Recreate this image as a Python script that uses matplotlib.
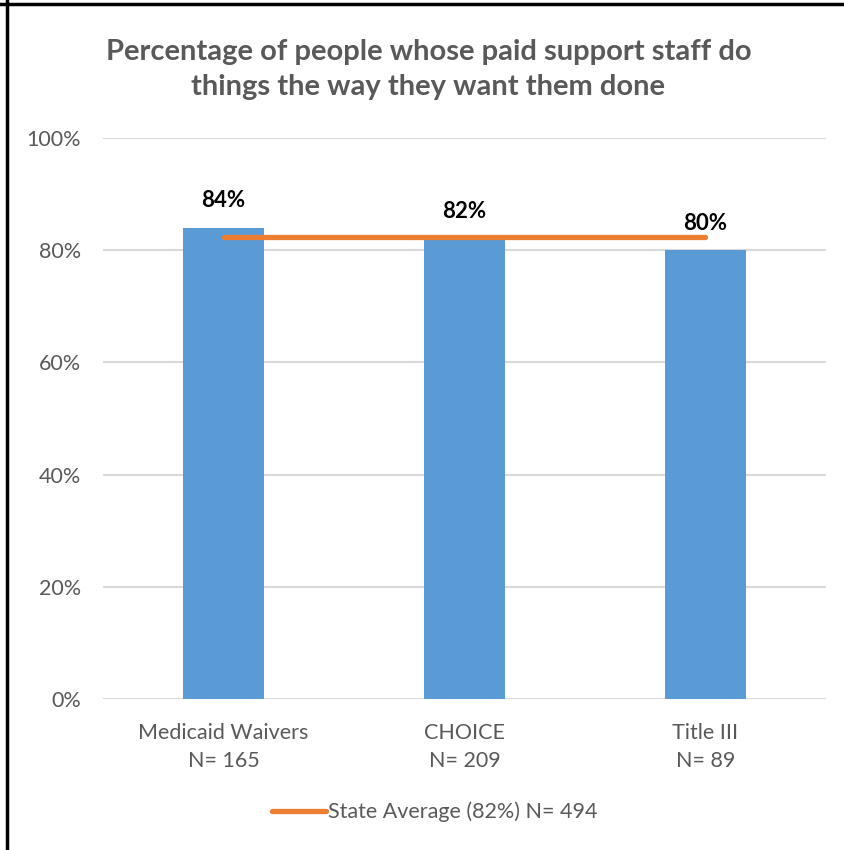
import matplotlib.pyplot as plt
from matplotlib.lines import Line2D
from matplotlib.ticker import PercentFormatter

categories = ['Medicaid Waivers\nN= 165', 'CHOICE\nN= 209', 'Title III\nN= 89']
values = [84, 82, 80]
value_labels = ['84%', '82%', '80%']
state_avg = 82.3
legend_label = 'State Average (82%) N= 494'
title = 'Percentage of people whose paid support staff do\nthings the way they want them done'

plt.rcParams['font.family'] = ['Lato', 'DejaVu Sans']
gray = '#595959'

fig = plt.figure(figsize=(8.45, 8.5), dpi=100)
ax = fig.add_axes([0.1219, 0.1776, 0.8556, 0.66])

x = range(len(categories))
ax.bar(x, values, width=0.336, color='#5B9BD5', zorder=2)
ax.plot([0, len(categories) - 1], [state_avg] * 2, color='#ED7D31', lw=3.8,
        solid_capstyle='round', zorder=3, label=legend_label)

for i, (v, lab) in enumerate(zip(values, value_labels)):
    ax.annotate(lab, (i, v), xytext=(0, 12), textcoords='offset points',
                ha='center', va='bottom', fontsize=16, fontweight='bold', color='black')

ax.set_xlim(-0.5, len(categories) - 0.5)
ax.set_ylim(0, 100)
ax.set_yticks(range(0, 101, 20))
ax.yaxis.set_major_formatter(PercentFormatter(decimals=0))
ax.set_xticks(list(x))
ax.set_xticklabels(categories, linespacing=1.55)
ax.tick_params(axis='both', length=0, labelsize=15.5, labelcolor=gray)
ax.tick_params(axis='y', pad=16)
ax.tick_params(axis='x', pad=17)
ax.grid(axis='y', color='#D9D9D9', lw=1.5, zorder=0)
for s in ax.spines.values():
    s.set_visible(False)

fig.text(0.507, 0.918, title, ha='center', va='center', fontsize=21,
         fontweight='bold', color=gray, linespacing=1.4)

fig.legend(loc='center', bbox_to_anchor=(435 / 845, 1 - 812 / 850), frameon=False,
           fontsize=15.5, labelcolor=gray, handlelength=2.5, handletextpad=0.1)

# black frame on top and left edges, as in the screenshot
fig.add_artist(Line2D([0, 1], [1 - 4 / 850] * 2, color='black', lw=2.5, transform=fig.transFigure))
fig.add_artist(Line2D([7 / 845] * 2, [0, 1], color='black', lw=2.5, transform=fig.transFigure))

fig.savefig('out.png', dpi=100)
